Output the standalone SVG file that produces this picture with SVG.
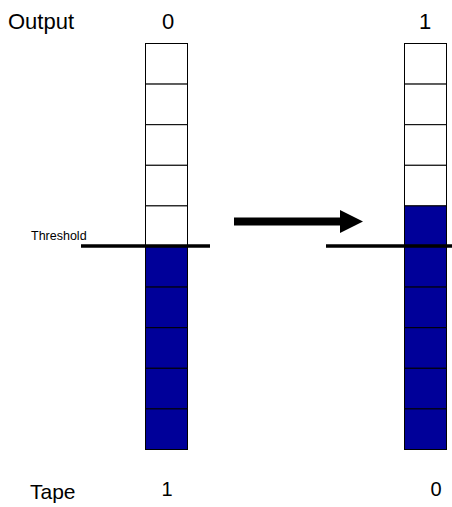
<svg xmlns="http://www.w3.org/2000/svg" width="452" height="507" viewBox="0 0 452 507">
<style>
.t{font-family:"Liberation Sans",Arial,sans-serif;fill:#000}
.e{fill:#fff;stroke:#000;stroke-width:1}
.f{fill:#000099;stroke:#000;stroke-width:1}
.th{stroke:#000;stroke-width:3.5}
</style>
<rect width="452" height="507" fill="#fff"/>
<g id="labels">
<text class="t" x="8" y="29" font-size="22">Output</text>
<text class="t" x="168" y="29" font-size="22" text-anchor="middle">0</text>
<text class="t" x="425" y="29" font-size="22" text-anchor="middle">1</text>
<text class="t" x="30" y="499" font-size="21">Tape</text>
<text class="t" x="167" y="496" font-size="20" text-anchor="middle">1</text>
<text class="t" x="436" y="496" font-size="20" text-anchor="middle">0</text>
<text class="t" x="31" y="240" font-size="12.5">Threshold</text>
</g>
<g id="left-tape">
<rect class="e" x="145.5" y="43.5" width="42" height="40.6"/>
<rect class="e" x="145.5" y="84.1" width="42" height="40.6"/>
<rect class="e" x="145.5" y="124.7" width="42" height="40.6"/>
<rect class="e" x="145.5" y="165.3" width="42" height="40.6"/>
<rect class="e" x="145.5" y="205.9" width="42" height="40.6"/>
<rect class="f" x="145.5" y="246.5" width="42" height="40.6"/>
<rect class="f" x="145.5" y="287.1" width="42" height="40.6"/>
<rect class="f" x="145.5" y="327.7" width="42" height="40.6"/>
<rect class="f" x="145.5" y="368.3" width="42" height="40.6"/>
<rect class="f" x="145.5" y="408.9" width="42" height="40.6"/>
</g>
<g id="right-tape">
<rect class="e" x="404.5" y="43.5" width="42" height="40.6"/>
<rect class="e" x="404.5" y="84.1" width="42" height="40.6"/>
<rect class="e" x="404.5" y="124.7" width="42" height="40.6"/>
<rect class="e" x="404.5" y="165.3" width="42" height="40.6"/>
<rect class="f" x="404.5" y="205.9" width="42" height="40.6"/>
<rect class="f" x="404.5" y="246.5" width="42" height="40.6"/>
<rect class="f" x="404.5" y="287.1" width="42" height="40.6"/>
<rect class="f" x="404.5" y="327.7" width="42" height="40.6"/>
<rect class="f" x="404.5" y="368.3" width="42" height="40.6"/>
<rect class="f" x="404.5" y="408.9" width="42" height="40.6"/>
</g>
<g id="connectors">
<line class="th" x1="81" y1="246" x2="210" y2="246"/>
<line class="th" x1="326" y1="246" x2="452" y2="246"/>
<polygon points="234,217.5 340,217.5 340,210 363,221.5 340,233 340,225.5 234,225.5" fill="#000"/>
</g>
</svg>
